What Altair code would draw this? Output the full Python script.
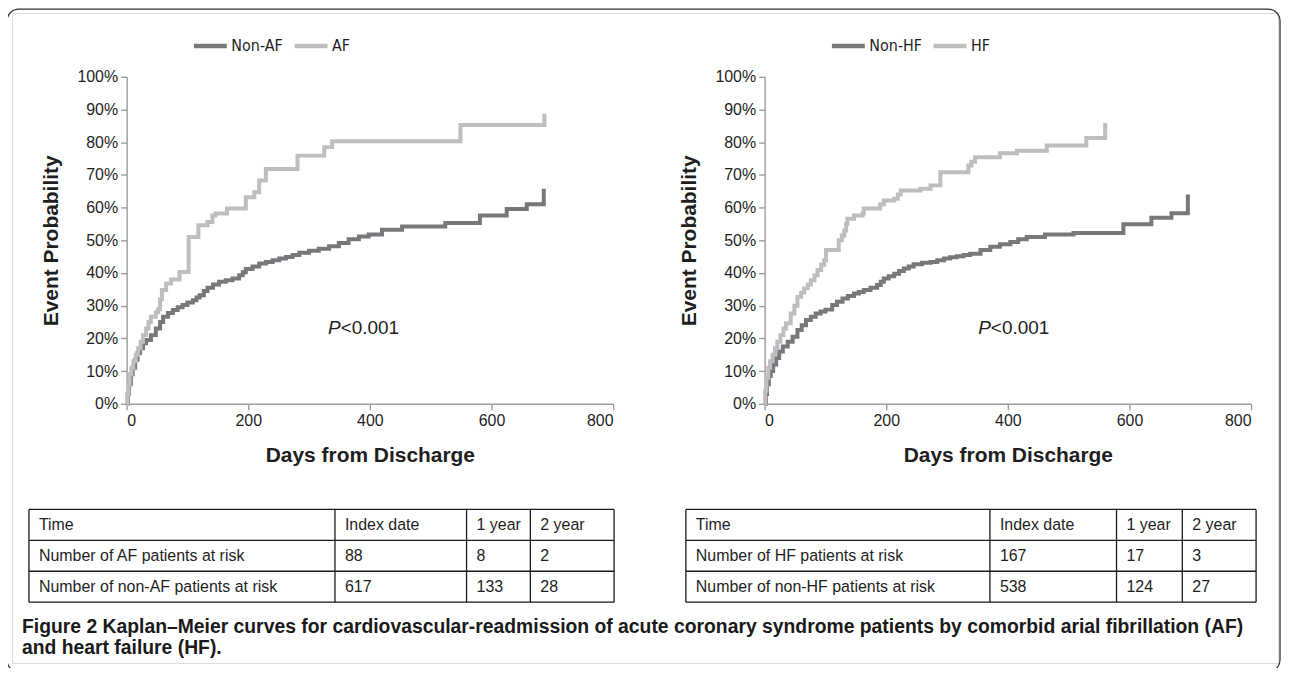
import altair as alt
import pandas as pd

# ---------------- data ----------------
AF_DAYS = [0, 1, 3, 5, 8, 11, 15, 19, 23, 27, 32, 36, 40, 48, 52, 55, 58, 65, 73, 87,
           102, 118, 133, 141, 146, 165, 196, 210, 218, 229, 281, 325, 338, 549, 687]
AF_PROB = [0, .03, .06, .09, .11, .13, .15, .17, .19, .21, .23, .25, .266, .28, .29, .32, .348, .368, .38, .403,
           .51, .546, .556, .576, .582, .597, .632, .647, .683, .718, .759, .785, .803, .853, .887]

NONAF_DAYS = [0, 2, 4, 7, 10, 14, 18, 22, 27, 32, 40, 48, 55, 60, 68, 76, 84, 92, 100, 109,
              115, 120, 127, 133, 142, 152, 163, 174, 185, 191, 196, 207, 218, 229, 240, 251, 262, 273, 284, 300,
              316, 333, 349, 365, 382, 398, 420, 453, 524, 581, 625, 658, 686]
NONAF_PROB = [0, .03, .06, .09, .11, .135, .155, .17, .185, .195, .21, .23, .25, .266, .278, .287, .295, .302, .31, .317,
              .325, .332, .345, .355, .365, .373, .378, .383, .393, .402, .412, .42, .429, .434, .439, .444, .449, .455, .462, .468,
              .474, .482, .492, .503, .512, .518, .532, .542, .553, .576, .596, .61, .658]

HF_DAYS = [0, 1, 3, 6, 9, 13, 17, 21, 26, 31, 35, 43, 49, 54, 60, 65, 71, 76, 82, 87,
           93, 98, 101, 122, 127, 131, 134, 136, 147, 161, 163, 190, 196, 213, 219, 224, 256, 273, 289, 335,
           340, 346, 387, 415, 464, 529, 560]
HF_PROB = [0, .04, .08, .11, .13, .15, .17, .19, .21, .23, .246, .276, .30, .327, .34, .353, .365, .378, .393, .409,
           .425, .439, .47, .50, .515, .53, .55, .566, .576, .581, .597, .61, .622, .627, .64, .652, .658, .668, .708, .729,
           .74, .754, .766, .774, .79, .813, .859]

NONHF_DAYS = [0, 2, 4, 7, 10, 14, 19, 24, 30, 38, 46, 54, 61, 68, 76, 84, 92, 100, 111, 119,
              128, 137, 147, 155, 163, 174, 185, 191, 196, 204, 213, 221, 229, 237, 245, 259, 273, 284, 295, 305,
              316, 327, 338, 355, 371, 387, 404, 417, 431, 461, 508, 590, 636, 669, 696]
NONHF_PROB = [0, .03, .06, .085, .10, .12, .14, .16, .175, .19, .205, .226, .24, .256, .266, .276, .282, .288, .302, .312,
              .322, .33, .337, .342, .348, .355, .363, .373, .383, .39, .398, .406, .414, .42, .427, .431, .434, .439, .444, .448,
              .451, .455, .459, .47, .48, .488, .495, .503, .51, .518, .522, .549, .569, .583, .64]

AF_NAMES = ["Non-AF", "AF"]
HF_NAMES = ["Non-HF", "HF"]

X_TICKS = [0, 200, 400, 600, 800]
Y_TICKS = [0, .1, .2, .3, .4, .5, .6, .7, .8, .9, 1.0]

TABLE_HEADER = ["Time", "Index date", "1 year", "2 year"]
AF_ROWS = [["Number of AF patients at risk", "88", "8", "2"],
           ["Number of non-AF patients at risk", "617", "133", "28"]]
HF_ROWS = [["Number of HF patients at risk", "167", "17", "3"],
           ["Number of non-HF patients at risk", "538", "124", "27"]]

CAPTION = ["Figure 2 Kaplan\u2013Meier curves for cardiovascular-readmission of acute coronary syndrome patients by comorbid arial fibrillation (AF)",
           "and heart failure (HF)."]

# ---------------- layout & style (page pixels) ----------------
PAGE_W, PAGE_H = 1290, 676
PAD = 4
ORIGIN = 8 + PAD
W, H = 1270, 652

DARK = "#78787c"
LIGHT = "#bebec1"
SANS = "Liberation Sans, Arial, sans-serif"
COND = "DejaVu Sans Condensed, Liberation Sans, sans-serif"
TXT = "#1e1e1e"

Y0_PAGE, Y100_PAGE = 404, 76
LEFT_PLOT = (127, 615)
RIGHT_PLOT = (767, 1255)
LEGEND_POS = [(192, 26), (832, 26)]
P_POS = [(352, .232), (372, .232)]

TAB_X = [[29, 336, 468, 532, 616], [688, 993, 1120, 1186, 1260]]
TAB_Y = [510, 541, 572, 603]
CAP_X = 22
CAP_Y = [628, 649]
FRAME = (7, 1284, 8, 673)


def px(v):
    return v - ORIGIN


def page_x():
    return alt.Scale(domain=[0, PAGE_W], range=[px(0), px(PAGE_W)], nice=False, zero=False)


def page_y():
    return alt.Scale(domain=[0, PAGE_H], range=[px(0), px(PAGE_H)], nice=False, zero=False)


def km_scales(plot):
    xs = alt.Scale(domain=[0, 800], range=[px(plot[0]), px(plot[1])], nice=False, zero=False)
    ys = alt.Scale(domain=[0, 1], range=[px(Y0_PAGE), px(Y100_PAGE)], nice=False, zero=False)
    return xs, ys


def km_panel(days_a, prob_a, days_b, prob_b, names, plot, legend_pos, p_pos):
    df = pd.concat([
        pd.DataFrame({"day": days_a, "p": prob_a, "g": names[0]}),
        pd.DataFrame({"day": days_b, "p": prob_b, "g": names[1]}),
    ])
    xs, ys = km_scales(plot)
    axis_common = dict(grid=False, domainColor="#9c9c9c", domainWidth=1.4, tickColor="#9c9c9c",
                       tickWidth=1.4, tickSize=6, labelFont=SANS, labelFontSize=16, labelColor=TXT,
                       titleFont=SANS, titleFontSize=21, titleFontWeight="bold", titleColor=TXT)
    lines = alt.Chart(df).mark_line(interpolate="step-after", strokeWidth=4, strokeCap="butt").encode(
        x=alt.X("day:Q", scale=xs,
                axis=alt.Axis(orient="bottom", offset=px(Y0_PAGE) - H, values=X_TICKS, format="d",
                              title="Days from Discharge", labelPadding=3, titlePadding=16, **axis_common)),
        y=alt.Y("p:Q", scale=ys,
                axis=alt.Axis(orient="left", offset=-px(plot[0]), values=Y_TICKS, format=".0%",
                              title="Event Probability", labelPadding=3, titlePadding=15, **axis_common)),
        color=alt.Color("g:N", scale=alt.Scale(domain=names, range=[DARK, LIGHT]),
                        legend=alt.Legend(orient="none", legendX=px(legend_pos[0]), legendY=px(legend_pos[1]),
                                          direction="horizontal", title=None, symbolType="stroke",
                                          symbolStrokeWidth=4.5, symbolSize=1089, labelFont=COND,
                                          labelFontSize=16, labelColor=TXT, labelOffset=2,
                                          columnPadding=2, padding=0)),
    )
    xs2, ys2 = km_scales(plot)
    ptxt = pd.DataFrame({"day": [p_pos[0]], "p": [p_pos[1]]})
    p_italic = alt.Chart(ptxt).mark_text(text="P", align="right", baseline="middle", font=SANS,
                                         fontSize=19, fontStyle="italic", color=TXT, dx=0).encode(
        x=alt.X("day:Q", scale=xs2, axis=None), y=alt.Y("p:Q", scale=ys2, axis=None))
    xs3, ys3 = km_scales(plot)
    p_rest = alt.Chart(ptxt).mark_text(text="<0.001", align="left", baseline="middle", font=SANS,
                                       fontSize=19, color=TXT).encode(
        x=alt.X("day:Q", scale=xs3, axis=None), y=alt.Y("p:Q", scale=ys3, axis=None))
    return [lines, p_italic, p_rest]


def table_layers(cols, rows):
    xl = cols
    segs = []
    for yv in TAB_Y:
        segs.append({"x": xl[0], "x2": xl[-1], "y": yv, "y2": yv})
    for xv in xl:
        segs.append({"x": xv, "x2": xv, "y": TAB_Y[0], "y2": TAB_Y[-1]})
    rules = alt.Chart(pd.DataFrame(segs)).mark_rule(color="#1a1a1a", strokeWidth=1.3).encode(
        x=alt.X("x:Q", scale=page_x(), axis=None), x2="x2:Q",
        y=alt.Y("y:Q", scale=page_y(), axis=None), y2="y2:Q")
    cells = []
    all_rows = [TABLE_HEADER] + rows
    for r, row in enumerate(all_rows):
        for c, t in enumerate(row):
            cells.append({"t": t, "x": xl[c] + 10, "y": (TAB_Y[r] + TAB_Y[r + 1]) / 2})
    texts = alt.Chart(pd.DataFrame(cells)).mark_text(align="left", baseline="middle", font=SANS,
                                                      fontSize=16, color=TXT).encode(
        x=alt.X("x:Q", scale=page_x(), axis=None), y=alt.Y("y:Q", scale=page_y(), axis=None), text="t:N")
    return [rules, texts]


frame = alt.Chart(pd.DataFrame([{"x": FRAME[0], "x2": FRAME[1], "y": FRAME[2], "y2": FRAME[3]}])).mark_rect(
    cornerRadius=12, fillOpacity=0, stroke="#333333", strokeWidth=1.3).encode(
    x=alt.X("x:Q", scale=page_x(), axis=None), x2="x2:Q",
    y=alt.Y("y:Q", scale=page_y(), axis=None), y2="y2:Q")

caption = alt.Chart(pd.DataFrame({"t": CAPTION, "x": [CAP_X] * len(CAPTION), "y": CAP_Y})).mark_text(
    align="left", baseline="middle", font=SANS, fontWeight="bold", fontSize=19.4, color="#1a1a1a").encode(
    x=alt.X("x:Q", scale=page_x(), axis=None), y=alt.Y("y:Q", scale=page_y(), axis=None), text="t:N")

layers = [frame]
layers += km_panel(NONAF_DAYS, NONAF_PROB, AF_DAYS, AF_PROB, AF_NAMES, LEFT_PLOT, LEGEND_POS[0], P_POS[0])
layers += km_panel(NONHF_DAYS, NONHF_PROB, HF_DAYS, HF_PROB, HF_NAMES, RIGHT_PLOT, LEGEND_POS[1], P_POS[1])
layers += table_layers(TAB_X[0], AF_ROWS)
layers += table_layers(TAB_X[1], HF_ROWS)
layers += [caption]

chart = alt.layer(*layers).resolve_scale(
    x="independent", y="independent", color="independent"
).properties(
    width=W, height=H, padding=PAD, autosize=alt.AutoSizeParams(type="none")
).configure_view(stroke=None).configure(background="white")

chart.save("out.html", embed_options={"renderer": "svg", "actions": False})
